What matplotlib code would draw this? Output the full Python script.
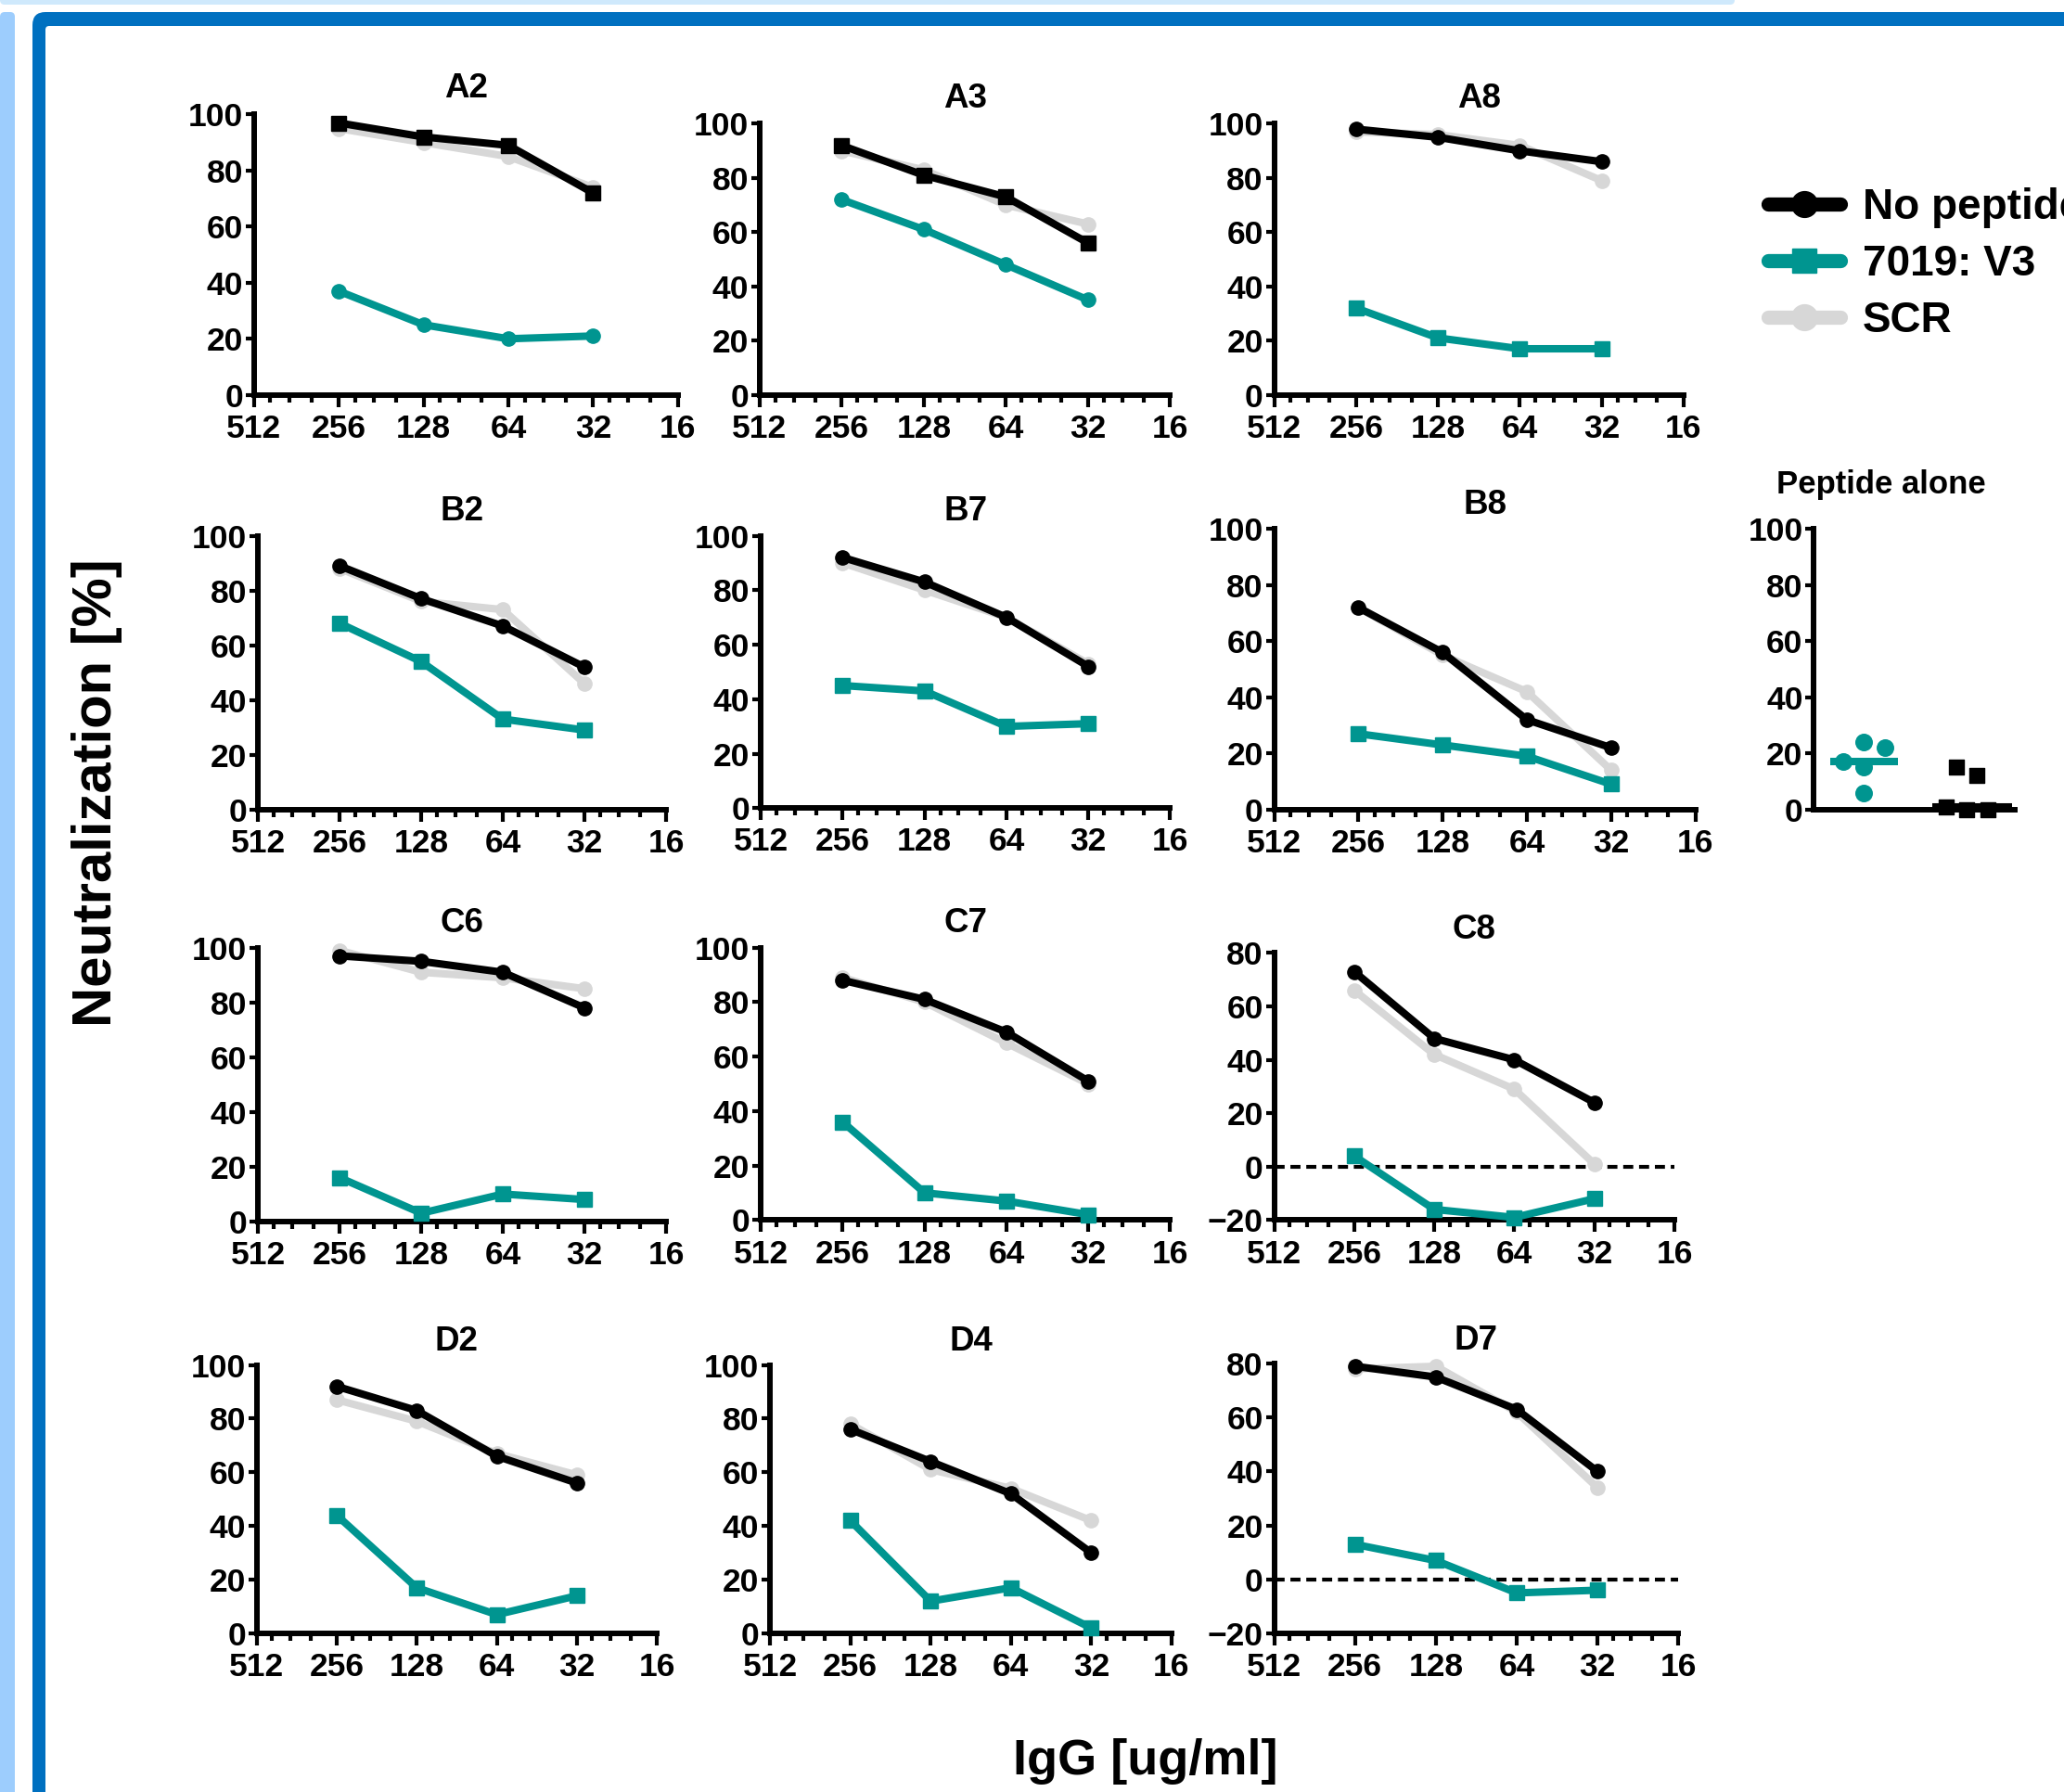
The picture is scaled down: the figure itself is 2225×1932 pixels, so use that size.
import numpy as np
import matplotlib
matplotlib.use('Agg')
import matplotlib.pyplot as plt
from matplotlib.lines import Line2D
from matplotlib.patches import FancyBboxPatch
from matplotlib.transforms import Affine2D
from matplotlib.ticker import FixedLocator, FixedFormatter, NullFormatter

plt.rcParams['font.family'] = ['Liberation Sans', 'DejaVu Sans']
plt.rcParams['font.weight'] = 'bold'

# ---------------- data ----------------
igg = [256, 128, 64, 32]
x_ticks = [512, 256, 128, 64, 32, 16]
x_tick_labels = ['512', '256', '128', '64', '32', '16']
legend_labels = ['No peptide', '7019: V3', 'SCR']

A2_none = [97, 92, 89, 72]; A2_v3 = [37, 25, 20, 21]; A2_scr = [95, 90, 85, 74]
A3_none = [92, 81, 73, 56]; A3_v3 = [72, 61, 48, 35]; A3_scr = [90, 83, 70, 63]
A8_none = [98, 95, 90, 86]; A8_v3 = [32, 21, 17, 17]; A8_scr = [97, 96, 92, 79]
B2_none = [89, 77, 67, 52]; B2_v3 = [68, 54, 33, 29]; B2_scr = [88, 76, 73, 46]
B7_none = [92, 83, 70, 52]; B7_v3 = [45, 43, 30, 31]; B7_scr = [90, 80, 70, 53]
B8_none = [72, 56, 32, 22]; B8_v3 = [27, 23, 19, 9]; B8_scr = [72, 55, 42, 14]
C6_none = [97, 95, 91, 78]; C6_v3 = [16, 3, 10, 8]; C6_scr = [99, 91, 89, 85]
C7_none = [88, 81, 69, 51]; C7_v3 = [36, 10, 7, 2]; C7_scr = [89, 80, 65, 50]
C8_none = [73, 48, 40, 24]; C8_v3 = [4, -16, -19, -12]; C8_scr = [66, 42, 29, 1]
D2_none = [92, 83, 66, 56]; D2_v3 = [44, 17, 7, 14]; D2_scr = [87, 79, 67, 59]
D4_none = [76, 64, 52, 30]; D4_v3 = [42, 12, 17, 2]; D4_scr = [78, 61, 54, 42]
D7_none = [79, 75, 63, 40]; D7_v3 = [13, 7, -5, -4]; D7_scr = [78, 79, 62, 34]

# Peptide alone (two groups)
pep_v3 = [17, 24, 22, 15, 6]
pep_v3_x = [0.8, 1.0, 1.2, 1.0, 1.0]
pep_scr = [1, 15, 12, 0, 0]
pep_scr_x = [1.8, 1.9, 2.1, 2.0, 2.2]

# ---------------- style ----------------
TEAL = '#009590'
GRAY = '#d7d7d7'
BLACK = '#000000'
LW = 5.8
MS = 11
SPINE = 4.3
TICKFS = 25.5
TITLEFS = 26.5

W, H = 2225, 1932
S = W / 1568.0

fig = plt.figure(figsize=(W / 100, H / 100), dpi=100)
pxT = Affine2D().scale(1.0 / W, -1.0 / H).translate(0, 1) + fig.transFigure


def rect(xl, yt, xr, yb):
    return [xl * S / W, 1 - yb * S / H, (xr - xl) * S / W, (yb - yt) * S / H]


# ---------------- frame (screenshot border) ----------------
frame = [
    FancyBboxPatch((0, -10), 1870, 15, boxstyle='round,pad=0,rounding_size=5',
                   fc='#cfe9fc', ec='none', transform=pxT, zorder=-10),
    FancyBboxPatch((0, 13), 16, 2000, boxstyle='round,pad=0,rounding_size=5',
                   fc='#9dcdfd', ec='none', transform=pxT, zorder=-10),
    FancyBboxPatch((35, 13), 2400, 2100, boxstyle='round,pad=0,rounding_size=14',
                   fc='#0070c0', ec='none', transform=pxT, zorder=-9),
    FancyBboxPatch((49, 28), 2400, 2100, boxstyle='round,pad=0,rounding_size=4',
                   fc='white', ec='none', transform=pxT, zorder=-8),
]
for p in frame:
    fig.add_artist(p)

minor_ticks = [b * (1 + k / 4.0) for b in [256, 128, 64, 32, 16] for k in (1, 2, 3)]


def style_axis(ax, ylim, xaxis=True):
    for s in ['top', 'right']:
        ax.spines[s].set_visible(False)
    for s in ['left', 'bottom']:
        ax.spines[s].set_linewidth(SPINE)
        ax.spines[s].set_capstyle('projecting')
    ax.set_ylim(*ylim)
    ax.set_yticks(np.arange(ylim[0], ylim[1] + 1, 20))
    ax.tick_params(axis='y', which='major', length=6.5, width=3, pad=2,
                   labelsize=TICKFS, direction='out')
    ax.patch.set_visible(False)
    if xaxis:
        ax.set_xscale('log', base=2)
        ax.set_xlim(512, 16)
        ax.xaxis.set_major_locator(FixedLocator(x_ticks))
        ax.xaxis.set_major_formatter(FixedFormatter(x_tick_labels))
        ax.xaxis.set_minor_locator(FixedLocator(minor_ticks))
        ax.xaxis.set_minor_formatter(NullFormatter())
        ax.tick_params(axis='x', which='major', length=9, width=3, pad=5.5,
                       labelsize=TICKFS, direction='out')
        ax.tick_params(axis='x', which='minor', length=6, width=3, direction='out')


panels = [
    ('A2', A2_none, A2_v3, A2_scr, (193, 87, 515, 300), (0, 100), 's', 'o', 19.5),
    ('A3', A3_none, A3_v3, A3_scr, (577, 94, 889, 300), (0, 100), 's', 'o', 19),
    ('A8', A8_none, A8_v3, A8_scr, (968, 94, 1279, 300), (0, 100), 'o', 's', 19),
    ('B2', B2_none, B2_v3, B2_scr, (196, 407, 506, 615), (0, 100), 'o', 's', 18.5),
    ('B7', B7_none, B7_v3, B7_scr, (578, 407, 889, 614), (0, 100), 'o', 's', 18.5),
    ('B8', B8_none, B8_v3, B8_scr, (968, 402, 1288, 615), (0, 100), 'o', 's', 18.5),
    ('C6', C6_none, C6_v3, C6_scr, (196, 720, 506, 928), (0, 100), 'o', 's', 18.5),
    ('C7', C7_none, C7_v3, C7_scr, (578, 720, 889, 927), (0, 100), 'o', 's', 18.5),
    ('C8', C8_none, C8_v3, C8_scr, (968, 724, 1272, 927), (-20, 80), 'o', 's', 17.5),
    ('D2', D2_none, D2_v3, D2_scr, (195, 1037, 499, 1241), (0, 100), 'o', 's', 17.5),
    ('D4', D4_none, D4_v3, D4_scr, (585, 1037, 890, 1241), (0, 100), 'o', 's', 17.5),
    ('D7', D7_none, D7_v3, D7_scr, (968, 1036, 1275, 1241), (-20, 80), 'o', 's', 17.5),
]

for name, none, v3, scr, box, ylim, mk_none, mk_v3, toff in panels:
    ax = fig.add_axes(rect(*box))
    style_axis(ax, ylim)
    if ylim[0] < 0:
        ax.axhline(0, color=BLACK, lw=3, ls=(0, (2.6, 1.5)), zorder=1)
    ax.plot(igg, scr, color=GRAY, lw=LW, marker='o', ms=MS, zorder=2, clip_on=False)
    ax.plot(igg, none, color=BLACK, lw=LW, marker=mk_none, ms=MS, zorder=3, clip_on=False)
    ax.plot(igg, v3, color=TEAL, lw=LW, marker=mk_v3, ms=MS, zorder=4, clip_on=False)
    ax.annotate(name, xy=(0.5, 1), xycoords='axes fraction',
                xytext=(0, toff * S / 1.389), textcoords='offset points',
                ha='center', va='center', fontsize=TITLEFS, fontweight='bold')

# Peptide alone panel
axp = fig.add_axes(rect(1378, 402, 1531, 615))
style_axis(axp, (0, 100), xaxis=False)
axp.set_xlim(0.514, 2.47)
axp.tick_params(axis='x', bottom=False, labelbottom=False)
axp.scatter(pep_v3_x, pep_v3, s=160, marker='o', color=TEAL, zorder=3, clip_on=False)
axp.scatter(pep_scr_x, pep_scr, s=140, marker='s', color=BLACK, zorder=3, clip_on=False)
axp.hlines(np.median(pep_v3), 0.67, 1.33, color=TEAL, lw=LW, zorder=2)
axp.hlines(np.median(pep_scr), 1.66, 2.44, color=BLACK, lw=LW, zorder=2, clip_on=False)
axp.annotate('Peptide alone', xy=(0.5, 1), xycoords='axes fraction',
             xytext=(-26, 34 * S / 1.389), textcoords='offset points',
             ha='center', va='center', fontsize=25, fontweight='bold')

# Legend
handles = [
    Line2D([], [], color=BLACK, lw=11, marker='o', ms=20, solid_capstyle='round'),
    Line2D([], [], color=TEAL, lw=11, marker='s', ms=19, solid_capstyle='round'),
    Line2D([], [], color=GRAY, lw=11, marker='o', ms=20, solid_capstyle='round'),
]
fig.legend(handles, legend_labels, loc='upper left',
           bbox_to_anchor=(1906 / W, 1 - 202 / H), frameon=False,
           prop={'weight': 'bold', 'size': 33}, handlelength=1.7,
           handletextpad=0.52, labelspacing=0.37, borderpad=0, borderaxespad=0)

# Axis labels
fig.text(104 / W, 1 - 855 / H, 'Neutralization [%]', rotation=90, ha='center',
         va='center', fontsize=43, fontweight='bold')
fig.text(1235 / W, 1 - 1899 / H, 'IgG [ug/ml]', ha='center', va='center',
         fontsize=39, fontweight='bold')

fig.savefig('out.png', dpi=100)
